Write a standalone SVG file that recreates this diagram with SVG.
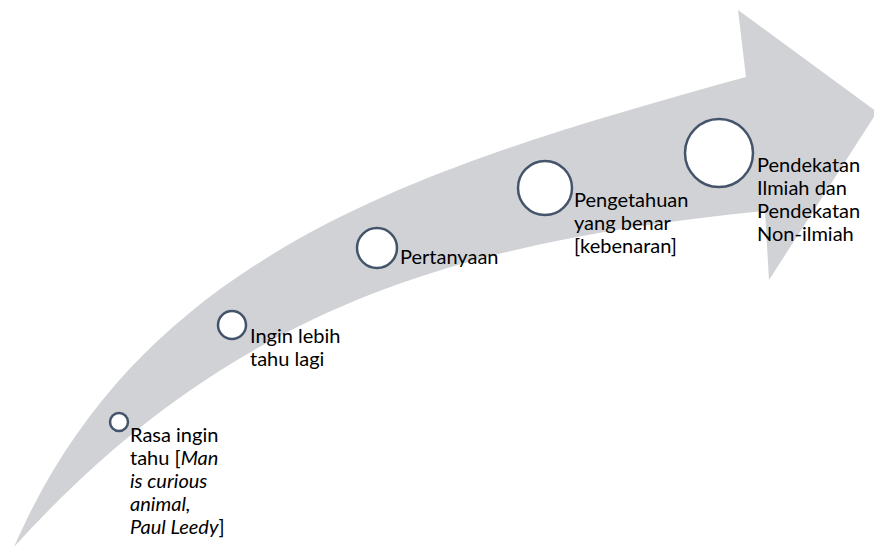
<svg xmlns="http://www.w3.org/2000/svg" width="874" height="548" viewBox="0 0 874 548">
<style>
.arrow{fill:#d1d2d6;stroke:none}
.dot{fill:#ffffff;stroke:#44546a;stroke-width:2.5}
.lbl{font-family:Lato,"Liberation Sans",sans-serif;font-size:20px;fill:#000000}
.it{font-style:italic}
</style>
<rect width="874" height="548" fill="#ffffff"/>
<g id="arrow">
<path class="arrow" d="M14,547 C142,253 416,168 746,77 L738,10 L877,112 L769,280 L765,211 C465,241 235,303 14,547 Z"/>
</g>
<g id="node1">
<circle class="dot" cx="119" cy="422" r="9"/>
<text class="lbl" x="130"><tspan x="130" y="441.5">Rasa ingin</tspan><tspan x="130" y="464.5">tahu [<tspan class="it">Man</tspan></tspan><tspan x="130" y="487.5" class="it">is curious</tspan><tspan x="130" y="510.5" class="it">animal,</tspan><tspan x="130" y="533.5"><tspan class="it">Paul Leedy</tspan>]</tspan></text>
</g>
<g id="node2">
<circle class="dot" cx="232" cy="325" r="14"/>
<text class="lbl"><tspan x="250" y="343">Ingin lebih</tspan><tspan x="250" y="366">tahu lagi</tspan></text>
</g>
<g id="node3">
<circle class="dot" cx="377" cy="248" r="20"/>
<text class="lbl"><tspan x="400" y="264">Pertanyaan</tspan></text>
</g>
<g id="node4">
<circle class="dot" cx="545" cy="188" r="27"/>
<text class="lbl"><tspan x="574" y="207">Pengetahuan</tspan><tspan x="574" y="230">yang benar</tspan><tspan x="574" y="253">[kebenaran]</tspan></text>
</g>
<g id="node5">
<circle class="dot" cx="719" cy="153" r="34"/>
<text class="lbl"><tspan x="757" y="172">Pendekatan</tspan><tspan x="757" y="195">Ilmiah dan</tspan><tspan x="757" y="218">Pendekatan</tspan><tspan x="757" y="241">Non-ilmiah</tspan></text>
</g>
</svg>
